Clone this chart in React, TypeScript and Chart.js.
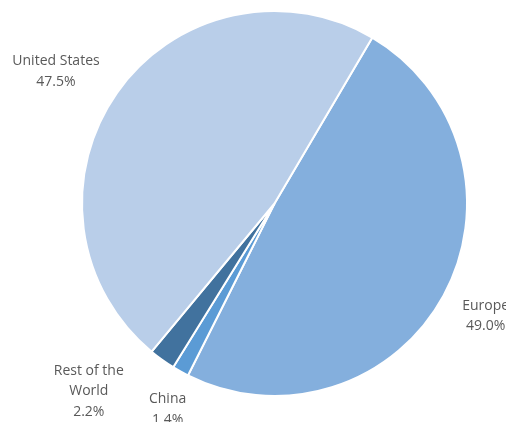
import React, { useEffect, useRef } from "react";
import { Chart, registerables } from "chart.js";
Chart.register(...registerables);

const regions = ["Europe", "China", "Rest of the World", "United States"];
const shares = [49.0, 1.4, 2.2, 47.5];
const labelLines = [["Europe"], ["China"], ["Rest of the", "World"], ["United States"]];
const colors = ["#84AFDD", "#5B9BD5", "#41729E", "#B9CEE9"];

// label placement tuning (radial factor + nudge)
const radialK = [1.22, 1.19, 1.35, 1.33];
const nudge = [[5, 0], [5, 6], [-34, -23], [-9, 15]];

const labelPlugin = {
  id: "outLabels",
  afterDatasetsDraw(chart: any) {
    const ctx = chart.ctx;
    const meta = chart.getDatasetMeta(0);
    ctx.save();
    ctx.font = "14px 'Open Sans', sans-serif";
    ctx.fillStyle = "#595959";
    ctx.textAlign = "center";
    ctx.textBaseline = "middle";
    const lh = 20.5;
    meta.data.forEach((arc: any, i: number) => {
      const p = arc.getProps(["x", "y", "startAngle", "endAngle", "outerRadius"], true);
      const mid = (p.startAngle + p.endAngle) / 2;
      const cx = p.x + Math.cos(mid) * p.outerRadius * radialK[i] + nudge[i][0];
      const cy = p.y + Math.sin(mid) * p.outerRadius * radialK[i] + nudge[i][1];
      const lines = [...labelLines[i], shares[i].toFixed(1) + "%"];
      const y0 = cy - ((lines.length - 1) * lh) / 2;
      lines.forEach((t, j) => ctx.fillText(t, cx, y0 + j * lh));
    });
    ctx.restore();
  },
};

export default function App() {
  const ref = useRef<HTMLCanvasElement>(null);
  useEffect(() => {
    const chart = new Chart(ref.current!, {
      type: "pie",
      data: {
        labels: regions,
        datasets: [
          {
            data: shares,
            backgroundColor: colors,
            borderColor: "#ffffff",
            borderWidth: 2,
          },
        ],
      },
      options: {
        animation: false,
        responsive: false,
        rotation: 30.5,
        layout: { padding: { left: 81, right: 38, top: 10, bottom: 25 } },
        plugins: { legend: { display: false }, tooltip: { enabled: false } },
      },
      plugins: [labelPlugin],
    });
    return () => chart.destroy();
  }, []);
  return (
    <div style={{ position: "fixed", left: 0, top: 0, width: 506, height: 422, background: "#fff" }}>
      <canvas ref={ref} width={506} height={422} style={{ width: 506, height: 422 }} />
    </div>
  );
}
